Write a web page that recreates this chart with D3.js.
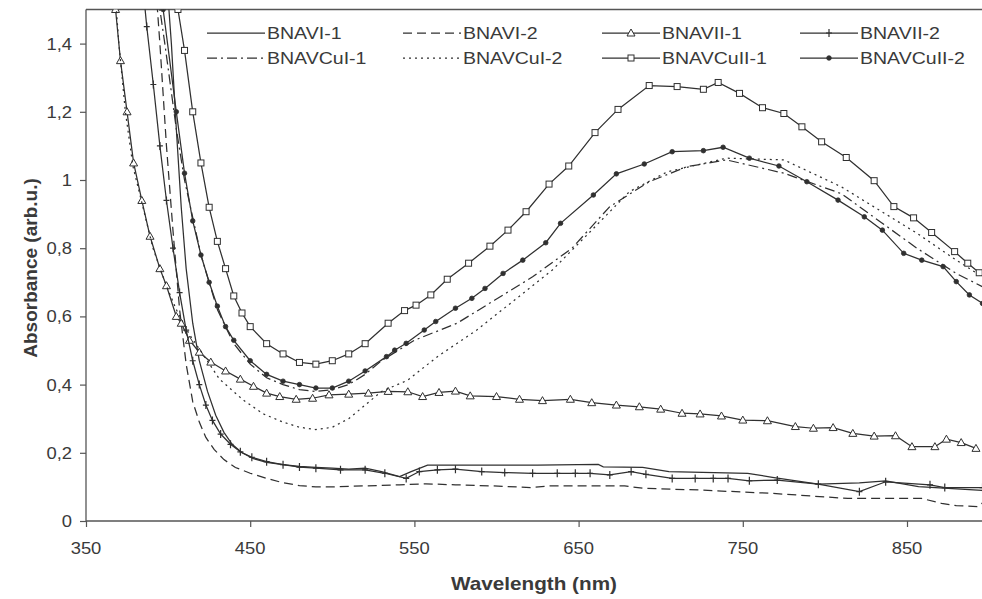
<!DOCTYPE html>
<html><head><meta charset="utf-8">
<script src="https://cdn.jsdelivr.net/npm/d3@7"></script>
<style>
html,body{margin:0;padding:0;background:#fff;}
text{font-family:"Liberation Sans",Arial,sans-serif;fill:#3a3a3a;}
</style></head>
<body><svg id="c" width="982" height="599"></svg>
<script>
// ---- data ----
const seriesNames = ["BNAVI-1","BNAVI-2","BNAVII-1","BNAVII-2","BNAVCuI-1","BNAVCuI-2","BNAVCuII-1","BNAVCuII-2"];
const wavelengthTicks = [350,450,550,650,750,850];
const absorbanceTicks = [0,0.2,0.4,0.6,0.8,1,1.2,1.4];
const absorbanceLabels = ["0","0,2","0,4","0,6","0,8","1","1,2","1,4"];

const BNAVI_1 = [[399,1.6],[402,1.4],[405,1.15],[408,0.92],[411,0.74],[415,0.58],[419,0.47],[424,0.38],[429,0.31],[434,0.26],[439,0.225],[445,0.2],[452,0.183],[460,0.172],[470,0.165],[480,0.16],[490,0.157],[500,0.155],[510,0.152],[520,0.155],[530,0.145],[541,0.13],[548,0.145],[558,0.164],[625,0.164],[662,0.166],[665,0.159],[689,0.157],[705,0.145],[753,0.14],[768,0.128],[796,0.108],[821,0.112],[837,0.118],[857,0.101],[896,0.09],[900,0.09]];
const BNAVI_2 = [[392,1.6],[395,1.4],[399,1.1],[403,0.85],[407,0.62],[411,0.46],[415,0.35],[419,0.29],[423,0.245],[428,0.21],[434,0.18],[441,0.157],[450,0.14],[460,0.125],[470,0.112],[480,0.104],[490,0.1],[500,0.1],[520,0.103],[541,0.106],[557,0.109],[575,0.106],[598,0.103],[621,0.098],[632,0.103],[678,0.103],[689,0.096],[723,0.091],[768,0.081],[814,0.066],[859,0.066],[871,0.052],[880,0.045],[893,0.042],[898,0.06]];
const BNAVII_1 = [[366,1.6],[368,1.5],[371,1.35],[375,1.2],[379,1.05],[384,0.94],[389,0.835],[395,0.74],[399,0.69],[405,0.6],[408,0.58],[413,0.53],[419,0.495],[426,0.466],[435,0.44],[444,0.416],[452,0.395],[460,0.375],[468,0.365],[478,0.357],[488,0.36],[498,0.37],[510,0.372],[522,0.375],[534,0.38],[546,0.379],[555,0.365],[565,0.377],[575,0.381],[584,0.367],[600,0.365],[614,0.357],[628,0.353],[645,0.357],[658,0.347],[673,0.34],[687,0.335],[700,0.328],[713,0.316],[724,0.314],[737,0.308],[750,0.296],[765,0.294],[782,0.277],[793,0.272],[805,0.274],[817,0.257],[830,0.249],[843,0.25],[853,0.218],[867,0.218],[874,0.24],[883,0.23],[892,0.213]];
const BNAVII_2 = [[384,1.6],[387,1.45],[391,1.28],[395,1.1],[399,0.94],[403,0.8],[407,0.67],[411,0.56],[415,0.47],[419,0.4],[423,0.34],[427,0.295],[432,0.255],[438,0.225],[444,0.203],[451,0.187],[460,0.174],[470,0.165],[480,0.158],[490,0.155],[505,0.15],[520,0.15],[532,0.14],[545,0.125],[553,0.145],[564,0.15],[575,0.152],[591,0.145],[605,0.142],[622,0.14],[637,0.14],[648,0.14],[657,0.14],[669,0.135],[682,0.145],[691,0.137],[707,0.125],[721,0.125],[732,0.125],[741,0.125],[754,0.118],[771,0.12],[796,0.108],[821,0.086],[837,0.115],[864,0.106],[873,0.098],[896,0.098]];
const BNAVCuI_1 = [[392,1.6],[398,1.4],[405,1.15],[410,1.0],[420,0.78],[430,0.62],[440,0.52],[450,0.46],[460,0.42],[470,0.4],[480,0.385],[490,0.38],[500,0.385],[510,0.4],[520,0.43],[530,0.47],[540,0.5],[550,0.53],[576,0.58],[599,0.648],[622,0.716],[646,0.8],[669,0.922],[693,0.995],[716,1.039],[740,1.059],[775,1.02],[810,0.96],[833,0.88],[856,0.8],[880,0.726],[896,0.687],[900,0.675]];
const BNAVCuI_2 = [[367,1.6],[370,1.4],[374,1.2],[378.6,1.04],[384.7,0.92],[390.8,0.8],[398.9,0.69],[405,0.62],[413,0.547],[421.5,0.487],[431.3,0.416],[445.7,0.355],[458,0.314],[470,0.29],[480,0.275],[490,0.268],[500,0.275],[510,0.3],[520,0.34],[530,0.38],[546,0.413],[564,0.482],[588,0.56],[611,0.648],[634,0.736],[658,0.853],[681,0.966],[704,1.024],[740,1.064],[775,1.059],[810,0.98],[833,0.912],[856,0.844],[880,0.765],[896,0.716],[900,0.7]];
const BNAVCuII_1 = [[403,1.62],[406,1.5],[410,1.38],[415,1.2],[420,1.05],[425,0.92],[430,0.82],[435,0.74],[440,0.66],[445,0.61],[450,0.57],[460,0.52],[470,0.49],[480,0.465],[490,0.46],[500,0.47],[510,0.49],[520,0.52],[534,0.58],[544,0.617],[551,0.633],[560,0.663],[570,0.709],[583,0.756],[596,0.806],[607,0.853],[618,0.907],[632,0.988],[644,1.041],[660,1.139],[674,1.207],[693,1.277],[710,1.274],[726,1.266],[735,1.286],[748,1.254],[762,1.212],[775,1.195],[786,1.156],[798,1.112],[813,1.066],[830,0.998],[842,0.922],[854,0.889],[865,0.846],[879,0.79],[887,0.756],[894,0.728],[900,0.70]];
const BNAVCuII_2 = [[393,1.6],[397,1.5],[405,1.2],[410,1.02],[415,0.88],[420,0.78],[425,0.7],[430,0.63],[435,0.57],[440,0.53],[450,0.47],[460,0.43],[470,0.41],[480,0.4],[490,0.39],[500,0.39],[510,0.41],[520,0.44],[533,0.482],[538,0.501],[545,0.521],[556,0.56],[563,0.585],[575,0.624],[585,0.653],[593,0.682],[604,0.726],[616,0.765],[630,0.816],[639,0.873],[659,0.956],[673,1.018],[690,1.047],[707,1.083],[726,1.086],[738,1.096],[754,1.064],[772,1.041],[789,0.995],[808,0.941],[824,0.892],[835,0.853],[848,0.785],[859,0.765],[872,0.746],[880,0.702],[888,0.663],[896,0.638],[900,0.625]];

const seriesData = [BNAVI_1,BNAVI_2,BNAVII_1,BNAVII_2,BNAVCuI_1,BNAVCuI_2,BNAVCuII_1,BNAVCuII_2];
const dashes = ["none","9,5","none","none","10,4,2,4","2,4","none","none"];
const markers = [null,null,"tri","plus",null,null,"sq","dot"];

// ---- layout ----
const svg = d3.select("#c");
const L = 86, T = 9.5, B = 521, R = 982;
const SX = 1.15; // horizontal stretch of the original lettering
const x = d3.scaleLinear().domain([350,900]).range([L, L + 550*1.642]);
const y = d3.scaleLinear().domain([0,1.5]).range([B, T]);
const ink = "#303030";

svg.append("defs").append("clipPath").attr("id","clip")
  .append("rect").attr("x",L).attr("y",T).attr("width",R-L).attr("height",B-T);

svg.append("line").attr("x1",L).attr("x2",R).attr("y1",T).attr("y2",T).attr("stroke","#555").attr("stroke-width",1.3);

function label(px, py, txt, size, anchor, weight, fill){
  return svg.append("text").attr("transform",`translate(${px},${py}) scale(${SX},1)`)
    .attr("text-anchor",anchor).attr("font-size",size).attr("font-weight",weight||"normal")
    .attr("fill",fill||"#444").text(txt);
}

const xAxis = svg.append("g").attr("transform",`translate(0,${B})`)
  .call(d3.axisBottom(x).tickValues(wavelengthTicks).tickSize(6).tickFormat(""));
const yAxis = svg.append("g").attr("transform",`translate(${L},0)`)
  .call(d3.axisLeft(y).tickValues(absorbanceTicks).tickSize(6).tickFormat(""));
[xAxis,yAxis].forEach(g=>{
  g.select(".domain").attr("stroke","#555").attr("stroke-width",1.3);
  g.selectAll(".tick line").attr("stroke","#555").attr("stroke-width",1.2);
});
xAxis.select(".domain").attr("d",`M${L},0H${R}`);
yAxis.select(".domain").attr("d",`M0,${B}V${T}`);

wavelengthTicks.forEach(v=> label(x(v), B+33, String(v), 16, "middle", "normal", "#555"));
absorbanceTicks.forEach((v,i)=> label(L-14, y(v)+6, absorbanceLabels[i], 16, "end", "normal", "#555"));

const line = d3.line().x(d=>x(d[0])).y(d=>y(d[1]));
const plot = svg.append("g").attr("clip-path","url(#clip)");

function drawMarker(g, type, cx, cy){
  if(type==="tri"){
    g.append("path").attr("d",`M${cx},${cy-4}L${cx+4},${cy+3}L${cx-4},${cy+3}Z`).attr("fill","#fff").attr("stroke",ink).attr("stroke-width",1);
  } else if(type==="plus"){
    g.append("path").attr("d",`M${cx},${cy-4}V${cy+4}M${cx-3},${cy}H${cx+3}`).attr("stroke",ink).attr("stroke-width",1.2).attr("fill","none");
  } else if(type==="sq"){
    g.append("rect").attr("x",cx-3).attr("y",cy-3).attr("width",6).attr("height",6).attr("fill","#fff").attr("stroke",ink).attr("stroke-width",1);
  } else if(type==="dot"){
    g.append("circle").attr("cx",cx).attr("cy",cy).attr("r",2.3).attr("fill",ink).attr("stroke",ink).attr("stroke-width",0.8);
  }
}

seriesData.forEach((data,i)=>{
  plot.append("path").datum(data).attr("d",line).attr("fill","none")
    .attr("stroke",ink).attr("stroke-width",1.25).attr("stroke-dasharray",dashes[i]==="none"?null:dashes[i]);
  if(markers[i]){
    const mg = plot.append("g");
    data.forEach(d=>{ if(d[1]<=1.5) drawMarker(mg, markers[i], x(d[0]), y(d[1])); });
  }
});

// legend
const legCols = [207,403,602,800];
const legRows = [33,58];
seriesNames.forEach((name,i)=>{
  const col = legCols[i%4], row = legRows[Math.floor(i/4)];
  const g = svg.append("g");
  g.append("line").attr("x1",col).attr("x2",col+58).attr("y1",row).attr("y2",row)
    .attr("stroke",ink).attr("stroke-width",1.25).attr("stroke-dasharray",dashes[i]==="none"?null:dashes[i]);
  if(markers[i]) drawMarker(g, markers[i], col+29, row);
  label(col+60, row+6, name, 17, "start", "normal", "#444");
});

// axis titles
label((L+R)/2, 590, "Wavelength (nm)", 18, "middle", "bold", "#333");
svg.append("text").attr("transform","translate(37,268) rotate(-90)").attr("text-anchor","middle")
  .attr("font-size",19).attr("font-weight","bold").attr("fill","#333").text("Absorbance (arb.u.)");
</script></body></html>
